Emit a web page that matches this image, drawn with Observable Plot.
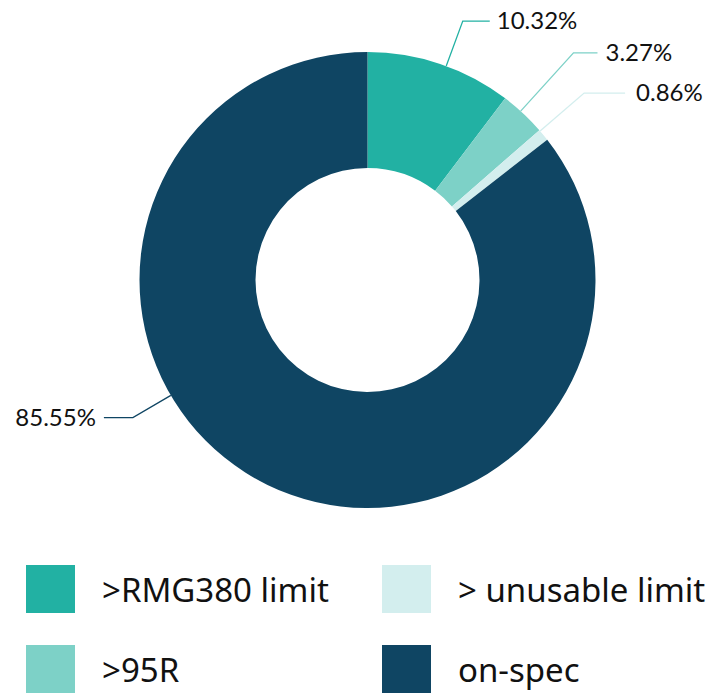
<!DOCTYPE html>
<html><head><meta charset="utf-8">
<script src="https://cdn.jsdelivr.net/npm/d3@7"></script>
<script src="https://cdn.jsdelivr.net/npm/@observablehq/plot@0.6"></script>
<style>
html,body{margin:0;padding:0;background:#fff;}
body{width:712px;height:693px;overflow:hidden;font-family:Lato,"Noto Sans",sans-serif;}
#chart svg{display:block;}
#legend{display:grid;grid-template-columns:356px 330px;margin-left:26px;margin-top:25px;row-gap:32px;}
.item{display:flex;align-items:center;font-family:"Noto Sans",sans-serif;font-size:33px;color:#111;white-space:nowrap;}
.sw{width:49px;height:48px;margin-right:27px;flex:none;}
</style></head><body>
<div id="chart"></div>
<div id="legend"></div>
<script>
// ---- data ----
const categories = [">RMG380 limit", ">95R", "> unusable limit", "on-spec"];
const shares = [10.32, 3.27, 0.86, 85.55];
const colors = ["#22b1a3", "#7dd1c7", "#d3eeee", "#0f4563"];
const legendOrder = [">RMG380 limit", "> unusable limit", ">95R", "on-spec"];

// ---- label leader layout (angle clockwise from top in degrees, elbow radius relative to outer radius, horizontal run px, text gap px) ----
const leaderAngle = [20.2, 42.2, 49.2, 239.6];
const leaderElbow = [1.21, 1.345, 1.255, 1.193];
const leaderRun = [27, 24, 41, 29];
const leaderGap = [7, 8, 11, 8];

const data = categories.map((c, i) => ({category: c, share: shares[i]}));
const cx = 367.5, cy = 280, R = 228, holeRatio = 112 / 228;
const fmt = v => d3.format(".2f")(v) + "%";

function donut(index, scales, values) {
  const ox = scales.x(0), oy = scales.y(0);
  const outer = scales.x(1) - ox, inner = outer * holeRatio;
  const g = d3.create("svg:g");
  const arcs = d3.pie().sort(null).value(i => data[i].share)(index);
  const arcGen = d3.arc().innerRadius(inner).outerRadius(outer);
  g.append("g").attr("transform", `translate(${ox},${oy})`)
    .selectAll("path").data(arcs).join("path")
    .attr("d", arcGen)
    .attr("fill", a => values.fill[a.data]);
  const lab = g.append("g").attr("font-family", "Lato, 'Noto Sans', sans-serif").attr("font-size", 24).attr("fill", "#111");
  arcs.forEach(a => {
    const i = a.data;
    const ang = leaderAngle[i] * Math.PI / 180;
    const sx = ox + outer * Math.sin(ang), sy = oy - outer * Math.cos(ang);
    const ex = ox + outer * leaderElbow[i] * Math.sin(ang), ey = oy - outer * leaderElbow[i] * Math.cos(ang);
    const right = Math.sin(ang) >= 0;
    const hx = ex + (right ? 1 : -1) * leaderRun[i];
    lab.append("path")
      .attr("d", `M${sx},${sy}L${ex},${ey}L${hx},${ey}`)
      .attr("fill", "none")
      .attr("stroke", values.fill[i])
      .attr("stroke-width", 1.3);
    lab.append("text")
      .attr("x", hx + (right ? 1 : -1) * leaderGap[i])
      .attr("y", ey)
      .attr("dy", "0.35em")
      .attr("text-anchor", right ? "start" : "end")
      .text(fmt(data[i].share));
  });
  return g.node();
}

const chart = Plot.plot({
  width: 712, height: 540, margin: 0,
  x: {domain: [-1, 1], range: [cx - R, cx + R], axis: null},
  y: {domain: [-1, 1], range: [cy + R, cy - R], axis: null},
  color: {domain: categories, range: colors},
  marks: [
    Plot.dot(data, {x: () => 0, y: () => 0, fill: "category", render: donut})
  ]
});
document.getElementById("chart").append(chart);

const cs = chart.scale("color");
const legend = document.getElementById("legend");
legendOrder.forEach(c => {
  const item = document.createElement("div");
  item.className = "item";
  const sw = document.createElement("div");
  sw.className = "sw";
  sw.style.background = cs.range[cs.domain.indexOf(c)];
  const t = document.createElement("span");
  t.textContent = c;
  item.append(sw, t);
  legend.append(item);
});
</script>
</body></html>
